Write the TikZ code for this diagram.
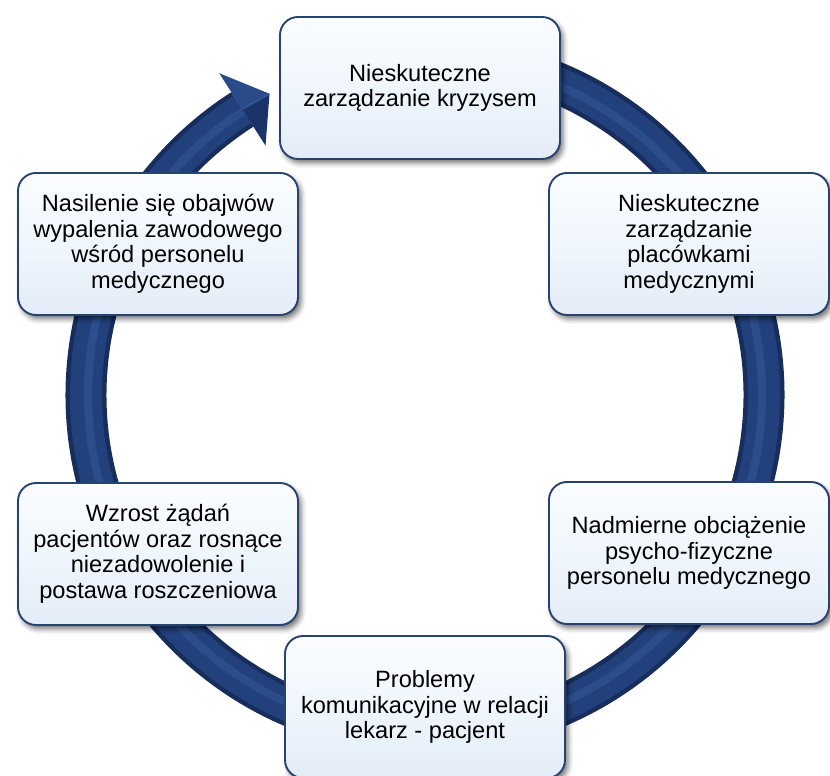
\documentclass[tikz,border=0pt]{standalone}
\usepackage{fontspec}
\setmainfont{Liberation Sans}
\usetikzlibrary{calc,shadows.blur}
\definecolor{ringdark}{HTML}{172D5C}
\definecolor{ringmain}{HTML}{22417C}
\definecolor{ringhi}{HTML}{3A5C9F}
\definecolor{headlight}{HTML}{2A4B8A}
\definecolor{headdark}{HTML}{1A3469}
\definecolor{boxline}{HTML}{27436F}
\definecolor{boxtop}{HTML}{FBFDFF}
\definecolor{boxmid}{HTML}{F0F6FD}
\definecolor{boxbot}{HTML}{E3ECF7}

\begin{document}
\begin{tikzpicture}[x=1pt,y=1pt,
  cyclebox/.style={draw=boxline, line width=1.9pt, rounded corners=18pt,
    top color=boxtop, bottom color=boxbot, middle color=boxmid,
    minimum width=280pt, minimum height=142pt, inner sep=0pt, align=center,
    font=\fontsize{23.6}{25.5}\selectfont,
    blur shadow={shadow xshift=3pt, shadow yshift=-4pt,
      shadow blur radius=5pt, shadow opacity=55}},
  ringstroke/.style={line width=#1, line cap=butt},
]
\useasboundingbox (0,0) rectangle (830,776);

% centre of the cycle ring
\coordinate (c) at (425,381);

% the circular arrow shaft, layered for a rounded tube look
\draw[ringdark, ringstroke=41pt] ($(c)+(85:339)$) arc[start angle=85, end angle=-237.4, radius=339];
\draw[ringmain, ringstroke=32pt] ($(c)+(85:339)$) arc[start angle=85, end angle=-237.4, radius=339];
\draw[ringhi, ringstroke=8pt, opacity=0.45] ($(c)+(85:337)$) arc[start angle=85, end angle=-237.4, radius=337];

% arrow head
\coordinate (hout) at ($(c)+(122.6:382)$);
\coordinate (hin)  at ($(c)+(122.6:296)$);
\coordinate (hmid) at ($(c)+(122.6:339)$);
\coordinate (htip) at ($(c)+(117.3:339)$);
\fill[headlight] (hout) -- (htip) -- (hmid) -- cycle;
\fill[headdark] (hin) -- (htip) -- (hmid) -- cycle;
\draw[ringhi, line width=2pt, opacity=0.5] (hmid) -- (htip);

% the six stages
\node[cyclebox] (s1) at (420,688) {Nieskuteczne\\zarządzanie kryzysem};
\node[cyclebox] (s2) at (689,532) {Nieskuteczne\\zarządzanie\\placówkami\\medycznymi};
\node[cyclebox] (s3) at (689,223) {Nadmierne obciążenie\\psycho-fizyczne\\personelu medycznego};
\node[cyclebox] (s4) at (425,69) {Problemy\\komunikacyjne w relacji\\lekarz - pacjent};
\node[cyclebox] (s5) at (158,222) {Wzrost żądań\\pacjentów oraz rosnące\\niezadowolenie i\\postawa roszczeniowa};
\node[cyclebox] (s6) at (158,532) {Nasilenie się obajwów\\wypalenia zawodowego\\wśród personelu\\medycznego};
\end{tikzpicture}
\end{document}
